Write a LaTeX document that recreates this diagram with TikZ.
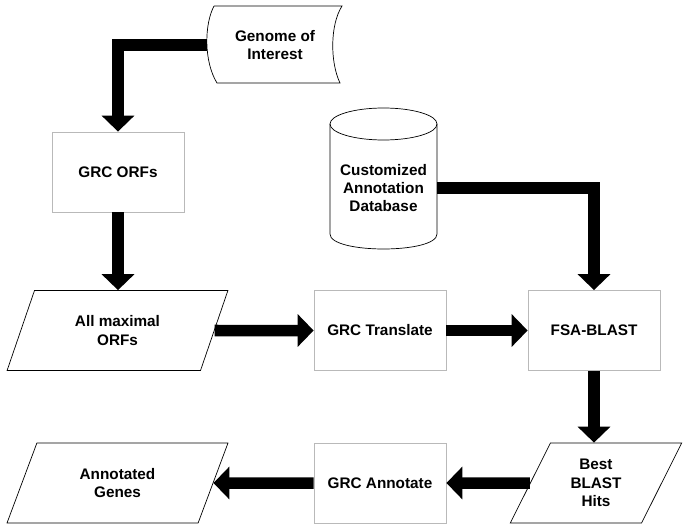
\documentclass[tikz,border=0pt]{standalone}
\usepackage{fontspec}
\setmainfont{Liberation Sans}
\usetikzlibrary{shapes.geometric,arrows.meta}

\begin{document}
\begin{tikzpicture}[x=1pt,y=-1pt,
  every node/.style={font=\bfseries\fontsize{15.3}{18.3}\selectfont,align=center,inner sep=0pt},
  proc/.style={draw=gray!55,line width=0.8pt,minimum width=132pt,minimum height=80pt},
  io/.style={draw,line width=0.7pt,trapezium,trapezium stretches=true,
    trapezium left angle=64.6,trapezium right angle=115.4,minimum height=80pt},
  flow/.style={line width=11.5pt,-{Triangle[width=32pt,length=16pt]}}]
  \useasboundingbox (0,0) rectangle (685,529);

  % genomul de intrare
  \draw[line width=0.7pt] (214,6) -- (342,6) .. controls (330,25) and (330,62) .. (340,83)
    -- (217,83) .. controls (204,62) and (204,25) .. (214,6);
  \node[minimum width=136pt,minimum height=77pt] (genome) at (275,45) {Genome of\\Interest};

  % baza de date
  \draw[line width=0.7pt] (383.5,124) ellipse [x radius=53.5pt, y radius=16pt];
  \draw[line width=0.7pt] (330,124) -- (330,234) .. controls (330,254) and (437,254) .. (437,234) -- (437,124);
  \node[minimum width=107pt] (db) at (383.5,188) {Customized\\Annotation\\Database};

  % procesele
  \node[proc] (grcorfs) at (118,172) {GRC ORFs};
  \node[proc] (translate) at (380,330.5) {GRC Translate};
  \node[proc] (fsablast) at (594,330.5) {FSA-BLAST};
  \node[proc] (annotate) at (380,483) {GRC Annotate};

  % datele
  \node[io,minimum width=221pt] (allorfs) at (117.5,330.5) {All maximal\\ORFs};
  \node[io,minimum width=172pt] (besthits) at (596,483) {Best\\BLAST\\Hits};
  \node[io,minimum width=221pt] (genes) at (117.5,483) {Annotated\\Genes};

  % săgețile
  \draw[flow] (genome.west) -| (grcorfs.north);
  \draw[flow] (grcorfs.south) -- (grcorfs.south |- allorfs.north);
  \draw[flow] (allorfs.east) -- (translate.west);
  \draw[flow] (translate.east) -- (fsablast.west);
  \draw[flow] (db.east) -| (fsablast.north);
  \draw[flow] (fsablast.south) -- (fsablast.south |- besthits.north);
  \draw[flow] (besthits.west) -- (annotate.east);
  \draw[flow] (annotate.west) -- (genes.east);
\end{tikzpicture}
\end{document}
